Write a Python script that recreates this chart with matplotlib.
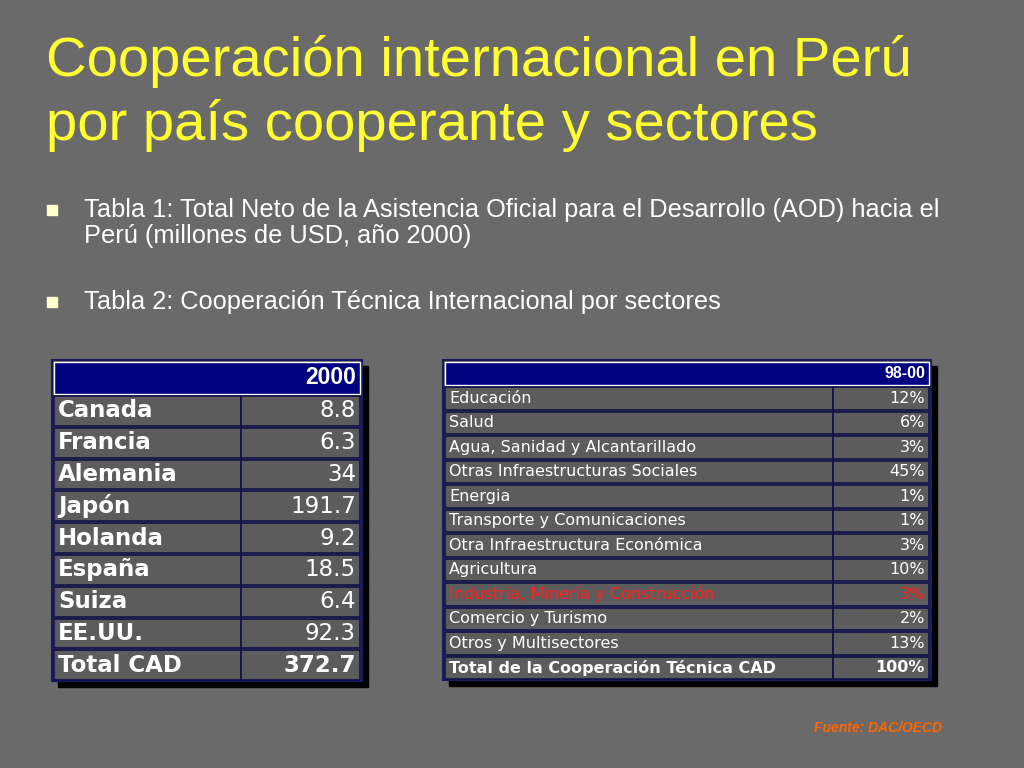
import matplotlib
matplotlib.use("Agg")
import matplotlib.pyplot as plt
from matplotlib.patches import Rectangle

countries = ["Canada", "Francia", "Alemania", "Japón", "Holanda", "España", "Suiza", "EE.UU.", "Total CAD"]
aod_2000 = ["8.8", "6.3", "34", "191.7", "9.2", "18.5", "6.4", "92.3", "372.7"]
sectors = ["Educación", "Salud", "Agua, Sanidad y Alcantarillado", "Otras Infraestructuras Sociales",
           "Energia", "Transporte y Comunicaciones", "Otra Infraestructura Económica", "Agricultura",
           "Industria, Minería y Construcción", "Comercio y Turismo", "Otros y Multisectores",
           "Total de la Cooperación Técnica CAD"]
share_98_00 = ["12%", "6%", "3%", "45%", "1%", "1%", "3%", "10%", "3%", "2%", "13%", "100%"]

BG = "#6a6a6a"
fig = plt.figure(figsize=(10.24, 7.68), dpi=100, facecolor=BG)
ax = fig.add_axes([0, 0, 1, 1])
ax.set_xlim(0, 1024); ax.set_ylim(768, 0); ax.axis("off")
ax.set_facecolor(BG)

fam = "Liberation Sans"
ax.text(46, 62, "Cooperación internacional en Perú", color="#ffff33", fontsize=40.5, family=fam, va="center")
ax.text(46, 126, "por país cooperante y sectores", color="#ffff33", fontsize=40.5, family=fam, va="center")
for yb, lines in [(210, ["Tabla 1: Total Neto de la Asistencia Oficial para el Desarrollo (AOD) hacia el",
                         "Perú (millones de USD, año 2000)"]),
                  (302, ["Tabla 2: Cooperación Técnica Internacional por sectores"])]:
    ax.add_patch(Rectangle((47, yb - 5), 10, 10, color="#ffffcc"))
    for i, l in enumerate(lines):
        ax.text(84, yb + i * 26, l, color="white", fontsize=18.3, family=fam, va="center")

def table(x0, x1, xs, y0, hh, rh, header, labels, values, fs, labfam, labw, red_idx=None):
    n = len(labels)
    y1 = y0 + hh + n * rh
    ax.add_patch(Rectangle((x0 + 6, y0 + 6), x1 - x0, y1 - y0, color="black", zorder=1))
    ax.add_patch(Rectangle((x0, y0), x1 - x0, y1 - y0, facecolor="#5c5c5c", edgecolor="#1a1a60", lw=1.5, zorder=2))
    ax.add_patch(Rectangle((x0 + 2, y0 + 2), x1 - x0 - 4, hh - 3, facecolor="#000080", edgecolor="white", lw=1, zorder=3))
    ax.text(x1 - 6, y0 + hh / 2, header, color="white", fontsize=fs, weight="bold", ha="right", va="center", family=fam, zorder=5)
    for i, (lab, v) in enumerate(zip(labels, values)):
        yt = y0 + hh + i * rh
        for (a, b) in [(x0 + 2, xs), (xs, x1 - 2)]:
            ax.add_patch(Rectangle((a, yt + 1), b - a, rh - 2, facecolor="#5c5c5c", edgecolor="#10104a", lw=1.2, zorder=3))
        col = "#ff2020" if i == red_idx else "white"
        last = i == n - 1
        ax.text(x0 + 6, yt + rh / 2, lab, color=col, fontsize=fs, weight="bold" if (labw or last) else "normal",
                va="center", family=labfam, zorder=5)
        ax.text(x1 - 6, yt + rh / 2, v, color=col, fontsize=fs, weight="bold" if last else "normal",
                ha="right", va="center", family=labfam, zorder=5)

table(52, 362, 241, 360, 35, 31.8, "2000", countries, aod_2000, 16.5, "DejaVu Sans", True)
table(443, 931, 833, 360, 26, 24.5, "98-00", sectors, share_98_00, 11.5, "DejaVu Sans", False, red_idx=8)

ax.text(942, 728, "Fuente: DAC/OECD", color="#ff6600", fontsize=10, style="italic", weight="bold", ha="right", va="center", family=fam)
fig.savefig("out.png", dpi=100, facecolor=BG)
